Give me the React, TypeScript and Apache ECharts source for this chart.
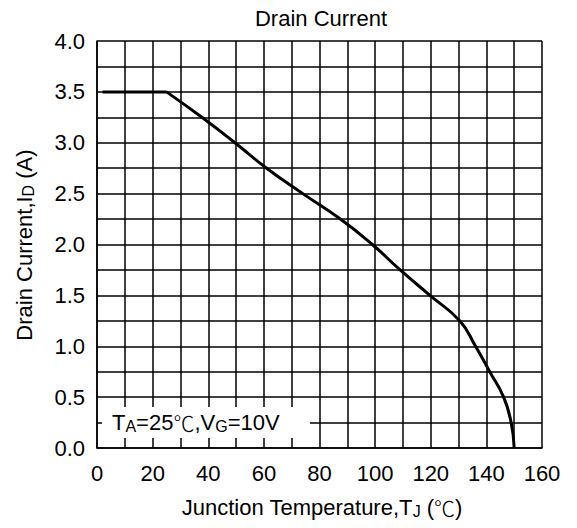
import React, { useEffect, useRef } from "react";
import * as echarts from "echarts";

// Flat current-limit segment
const flatTemp = [2, 25];
const flatCurrent = [3.5, 3.5];
// Derating curve
const curveTemp = [25, 37.7, 49.6, 61, 74, 87.5, 99, 109, 119.7, 130.4, 136.1, 141.2, 146.2, 148.9, 150];
const curveCurrent = [3.5, 3.25, 3.0, 2.75, 2.5, 2.25, 2.0, 1.75, 1.5, 1.25, 1.0, 0.75, 0.5, 0.25, 0];

const xTickLabels = [0, 20, 40, 60, 80, 100, 120, 140, 160];
const yTickLabels = [0, 0.5, 1.0, 1.5, 2.0, 2.5, 3.0, 3.5, 4.0];

const titleText = "Drain Current";
const xNameText = "Junction Temperature,T{s|J} ({c|℃})";
const yNameText = "Drain Current,I{s|D} (A)";
const noteText = "T{s|A}=25{c|℃},V{s|G}=10V";

const FONT = "Arial, 'Liberation Sans', sans-serif";
const CJK = "'Noto Sans CJK SC', 'Noto Sans CJK JP', sans-serif";

export default function App() {
  const ref = useRef<HTMLDivElement>(null);
  useEffect(() => {
    if (!ref.current) return;
    const chart = echarts.init(ref.current, null, { renderer: "svg" });
    const gridLeft = 97, gridTop = 41, gridW = 445, gridH = 407;
    const rich = {
      s: { fontSize: 16, lineHeight: 16, verticalAlign: "bottom", fontFamily: FONT, fill: "#000" },
      c: { fontSize: 21, lineHeight: 24, fontFamily: CJK, fontWeight: 300, fill: "#000" },
    };
    const lineStyle = { color: "#000", width: 1.5 };
    chart.setOption({
      animation: false,
      backgroundColor: "#fff",
      grid: { left: gridLeft, top: gridTop, width: gridW, height: gridH, containLabel: false },
      xAxis: {
        type: "value",
        min: 0,
        max: 160,
        interval: 10,
        axisLine: { show: true, lineStyle },
        axisTick: { show: false },
        splitLine: { show: true, lineStyle },
        axisLabel: {
          margin: 14,
          fontSize: 22,
          fontFamily: FONT,
          color: "#000",
          formatter: (v: number) => (xTickLabels.includes(v) ? String(v) : ""),
        },
      },
      yAxis: {
        type: "value",
        min: 0,
        max: 4,
        interval: 0.25,
        axisLine: { show: true, lineStyle },
        axisTick: { show: false },
        splitLine: { show: true, lineStyle },
        axisLabel: {
          margin: 12,
          fontSize: 22,
          fontFamily: FONT,
          color: "#000",
          formatter: (v: number) =>
            yTickLabels.some((t) => Math.abs(t - v) < 1e-9) ? v.toFixed(1) : "",
        },
      },
      series: [
        {
          type: "line",
          data: flatTemp.map((t, i) => [t, flatCurrent[i]]),
          showSymbol: false,
          lineStyle: { color: "#000", width: 3 },
          z: 5,
        },
        {
          type: "line",
          data: curveTemp.map((t, i) => [t, curveCurrent[i]]),
          showSymbol: false,
          smooth: 0.5,
          lineStyle: { color: "#000", width: 3 },
          z: 5,
        },
      ],
      graphic: [
        {
          type: "text",
          x: 321,
          y: 18,
          style: { text: titleText, fontSize: 22, fontFamily: FONT, fill: "#000", align: "center", verticalAlign: "middle" },
        },
        {
          type: "text",
          x: 322,
          y: 507,
          style: {
            text: xNameText,
            fontSize: 22,
            lineHeight: 24,
            fontFamily: FONT,
            fill: "#000",
            align: "center",
            verticalAlign: "middle",
            rich,
          },
        },
        {
          type: "text",
          x: 24,
          y: 245,
          rotation: Math.PI / 2,
          style: {
            text: yNameText,
            fontSize: 22,
            lineHeight: 24,
            fontFamily: FONT,
            fill: "#000",
            align: "center",
            verticalAlign: "middle",
            rich,
          },
        },
        {
          type: "rect",
          z: 10,
          shape: { x: 102, y: 407, width: 208, height: 31 },
          style: { fill: "#fff" },
        },
        {
          type: "text",
          z: 11,
          x: 112,
          y: 422,
          style: {
            text: noteText,
            fontSize: 22,
            lineHeight: 24,
            fontFamily: FONT,
            fill: "#000",
            align: "left",
            verticalAlign: "middle",
            rich,
          },
        },
      ],
    });
    return () => chart.dispose();
  }, []);
  return (
    <div
      ref={ref}
      style={{ position: "fixed", left: 0, top: 0, width: 577, height: 528, background: "#fff" }}
    />
  );
}
